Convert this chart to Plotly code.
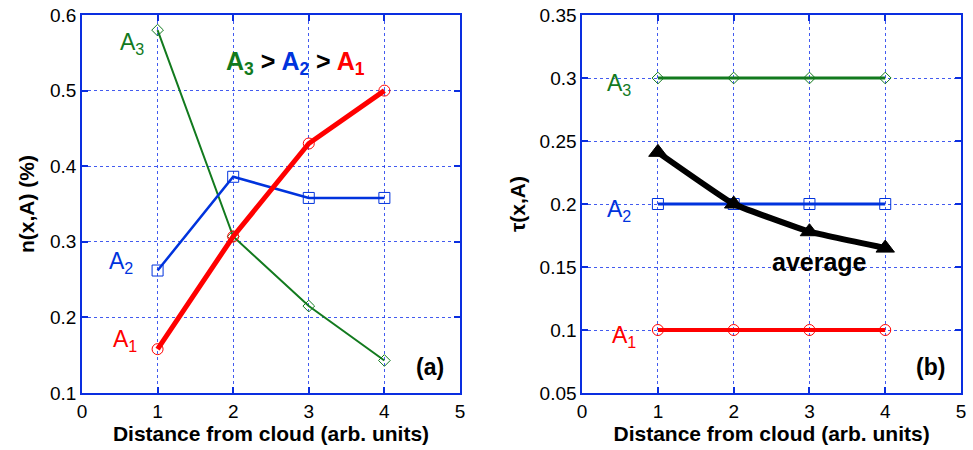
import plotly.graph_objects as go

x = [1, 2, 3, 4]
# panel (a): n(x,A) (%)
n_A1 = [0.158, 0.307, 0.430, 0.500]
n_A2 = [0.262, 0.386, 0.358, 0.358]
n_A3 = [0.580, 0.307, 0.215, 0.143]
# panel (b): tau(x,A)
tau_A1 = [0.1, 0.1, 0.1, 0.1]
tau_A2 = [0.2, 0.2, 0.2, 0.2]
tau_A3 = [0.3, 0.3, 0.3, 0.3]
tau_avg = [0.241, 0.200, 0.178, 0.165]

RED = "#ff0000"
BLUE = "#0033dd"
GREEN = "#127a1e"
AXC = "#0a2ee0"
FONT = "Liberation Sans, Arial, Helvetica, sans-serif"

fig = go.Figure()

def add(xs, ys, color, width, symbol, size, xa, ya, shape="linear", filled=False):
    fig.add_trace(go.Scatter(
        x=xs, y=ys, mode="lines+markers", xaxis=xa, yaxis=ya,
        line=dict(color=color, width=width, shape=shape, smoothing=0.3),
        marker=dict(symbol=symbol if filled else symbol + "-open", size=size,
                    color=color, line=dict(color=color, width=1)),
        showlegend=False, hoverinfo="skip"))

# Panel a
add(x, n_A3, GREEN, 2, "diamond", 9, "x", "y")
add(x, n_A2, BLUE, 2.5, "square", 11, "x", "y")
add(x, n_A1, RED, 5, "circle", 11, "x", "y")
# Panel b
add(x, tau_A3, GREEN, 3, "diamond", 9, "x2", "y2")
add(x, tau_A2, BLUE, 3, "square", 11, "x2", "y2")
add(x, tau_A1, RED, 4, "circle", 11, "x2", "y2")
add(x, tau_avg, "black", 6, "triangle-up", 16, "x2", "y2", shape="spline", filled=True)

axis_common = dict(
    showline=True, linecolor=AXC, linewidth=1.5, mirror="ticks",
    ticks="inside", ticklen=6, tickcolor=AXC, tickwidth=1.5,
    showgrid=True, gridcolor="rgba(20,50,235,0.8)", griddash="dot", gridwidth=1,
    zeroline=False, tickfont=dict(family=FONT, size=19, color="black"),
    automargin=False, ticklabeloverflow="allow",
)
title_font = dict(family=FONT, size=21, color="black")

fig.update_layout(
    width=973, height=450,
    margin=dict(l=82, r=12, t=15, b=57),
    plot_bgcolor="white", paper_bgcolor="white",
    xaxis=dict(domain=[0, 0.430], range=[0, 5], dtick=1, anchor="y",
               title=dict(text="<b>Distance from cloud (arb. units)</b>", font=title_font, standoff=2),
               **axis_common),
    yaxis=dict(domain=[0, 1], range=[0.1, 0.6], dtick=0.1, anchor="x", tickformat=".1f",
               title=dict(text="<b>n(x,A) (%)</b>", font=title_font, standoff=10),
               **axis_common),
    xaxis2=dict(domain=[0.569, 1], range=[0, 5], dtick=1, anchor="y2",
                title=dict(text="<b>Distance from cloud (arb. units)</b>", font=title_font, standoff=2),
                **axis_common),
    yaxis2=dict(domain=[0, 1], range=[0.05, 0.35], anchor="x2",
                tickvals=[0.05, 0.1, 0.15, 0.2, 0.25, 0.3, 0.35],
                ticktext=["0.05", "0.1", "0.15", "0.2", "0.25", "0.3", "0.35"],
                title=dict(text="<b>τ(x,A)</b>", font=title_font, standoff=8),
                **axis_common),
)

def label(text, xv, yv, xr, yr, color, size=23, bold=False, xanchor="center"):
    t = f"<b>{text}</b>" if bold else text
    fig.add_annotation(x=xv, y=yv, xref=xr, yref=yr, text=t, showarrow=False,
                       font=dict(family=FONT, size=size, color=color), xanchor=xanchor)

# Panel a labels
label("A<sub>3</sub>", 0.66, 0.562, "x", "y", GREEN)
label("A<sub>2</sub>", 0.52, 0.272, "x", "y", BLUE)
label("A<sub>1</sub>", 0.57, 0.170, "x", "y", RED)
fig.add_annotation(x=2.82, y=0.537, xref="x", yref="y", showarrow=False,
                   text=(f"<b><span style='color:{GREEN}'>A<sub>3</sub></span>"
                         f" > <span style='color:{BLUE}'>A<sub>2</sub></span>"
                         f" > <span style='color:{RED}'>A<sub>1</sub></span></b>"),
                   font=dict(family=FONT, size=25, color="black"))
label("(a)", 4.6, 0.135, "x", "y", "black", size=23, bold=True)

# Panel b labels
label("A<sub>3</sub>", 0.49, 0.295, "x2", "y2", GREEN)
label("A<sub>2</sub>", 0.49, 0.195, "x2", "y2", BLUE)
label("A<sub>1</sub>", 0.55, 0.095, "x2", "y2", RED)
label("average", 3.13, 0.154, "x2", "y2", "black", size=25, bold=True)
label("(b)", 4.6, 0.071, "x2", "y2", "black", size=23, bold=True)

fig.write_html("out.html", config={"displayModeBar": False},
               post_script="document.body.style.margin='0';")
